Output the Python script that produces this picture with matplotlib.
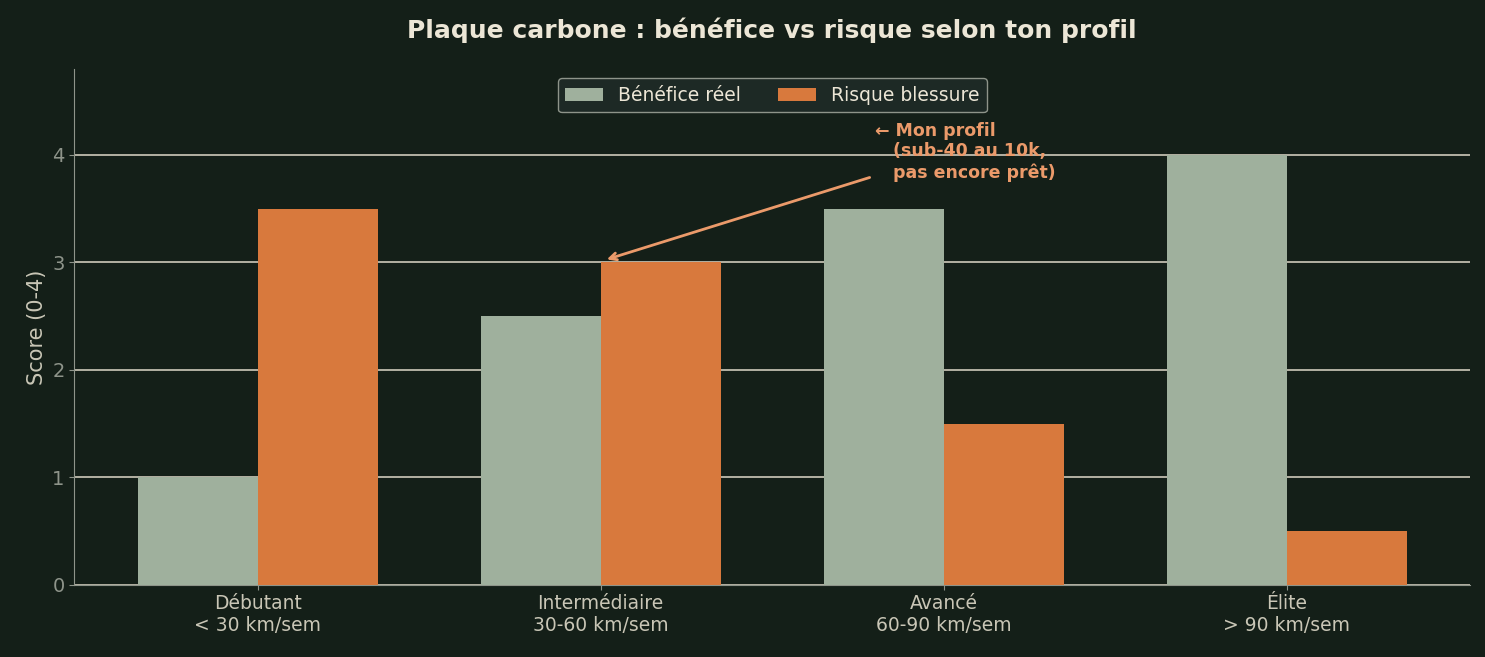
import numpy as np
import matplotlib.pyplot as plt

profils = ["Débutant\n< 30 km/sem", "Intermédiaire\n30-60 km/sem",
           "Avancé\n60-90 km/sem", "Élite\n> 90 km/sem"]
benefice = [1.0, 2.5, 3.5, 4.0]
risque = [3.5, 3.0, 1.5, 0.5]

BG = "#141f18"
GREEN = "#9fb09d"
ORANGE = "#d8793d"
TXT = "#ece6d6"

fig, ax = plt.subplots(figsize=(14.85, 6.57), dpi=100)
fig.patch.set_facecolor(BG)
ax.set_facecolor(BG)

x = np.arange(len(profils))
w = 0.35
ax.bar(x - w/2, benefice, w, color=GREEN, label="Bénéfice réel", zorder=3)
ax.bar(x + w/2, risque, w, color=ORANGE, label="Risque blessure", zorder=3)

ax.set_ylim(0, 4.8)
ax.set_yticks([0, 1, 2, 3, 4])
ax.yaxis.grid(True, color="#cfcabb", linewidth=1.2, zorder=0)
ax.set_axisbelow(True)
ax.set_xticks(x)
ax.set_xticklabels(profils, fontsize=13.5, color="#c9c6b6")
ax.tick_params(axis="y", labelsize=14, colors="#8e948a")
ax.tick_params(axis="x", colors="#8e948a")
for lbl in ax.get_xticklabels():
    lbl.set_color("#c9c6b6")
ax.set_ylabel("Score (0-4)", fontsize=15, color="#c9c6b6")
for s in ["top", "right"]:
    ax.spines[s].set_visible(False)
for s in ["left", "bottom"]:
    ax.spines[s].set_color("#8e948a")

ax.set_title("Plaque carbone : bénéfice vs risque selon ton profil",
             fontsize=18, fontweight="bold", color=TXT, pad=22)

leg = ax.legend(loc="upper center", ncol=2, fontsize=13.5,
                facecolor="#1d2925", edgecolor="#8e948a", framealpha=1)
for t in leg.get_texts():
    t.set_color(TXT)

ax.annotate("← Mon profil\n   (sub-40 au 10k,\n   pas encore prêt)",
            xy=(1.01, 3.02), xytext=(1.8, 3.75),
            fontsize=12.5, fontweight="bold", color="#eb9a6a",
            ha="left", va="bottom",
            arrowprops=dict(arrowstyle="->", color="#eb9a6a", lw=2,
                            relpos=(0, 0.1)))

plt.subplots_adjust(left=0.05, right=0.99, top=0.895, bottom=0.11)
plt.savefig("out.png", dpi=100, facecolor=BG)
